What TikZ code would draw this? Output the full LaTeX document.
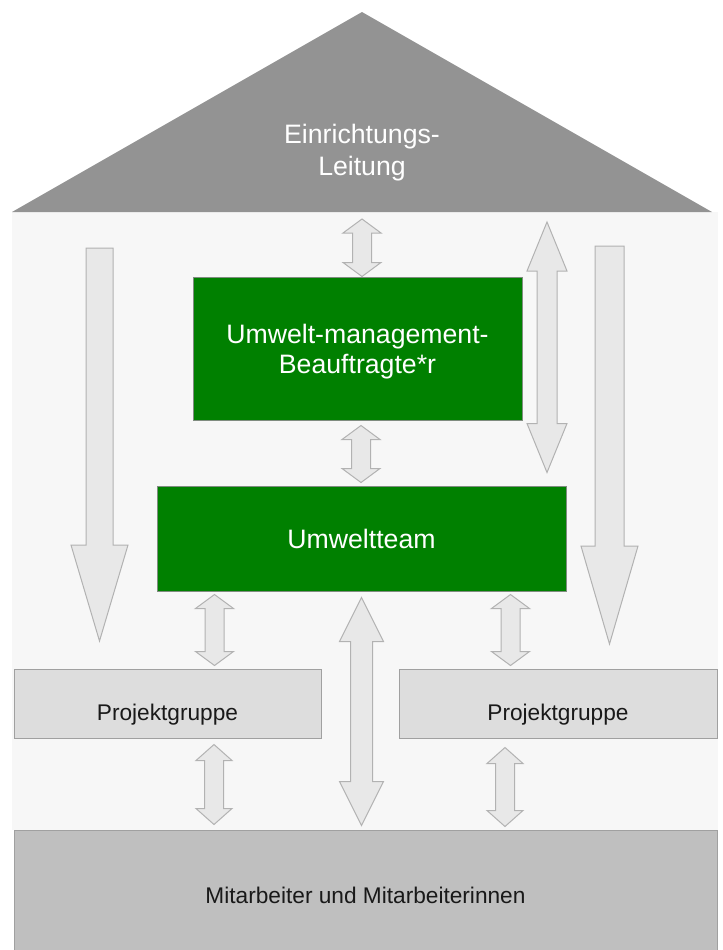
\documentclass[tikz,border=0pt]{standalone}
\usepackage{fontspec}
\setmainfont{Liberation Sans}
\usetikzlibrary{calc}
\definecolor{roofColor}{RGB}{147, 147, 147}
\definecolor{wallColor}{RGB}{247, 247, 247}
\definecolor{greenColor}{RGB}{0, 128, 0}
\definecolor{greenLine}{RGB}{128, 140, 128}
\definecolor{groupColor}{RGB}{221, 221, 221}
\definecolor{staffColor}{RGB}{191, 191, 191}
\definecolor{boxLine}{RGB}{160, 160, 160}
\definecolor{arrowFill}{RGB}{232, 232, 232}
\definecolor{arrowLine}{RGB}{178, 178, 178}

\begin{document}
\begin{tikzpicture}[
    x=0.75pt, y=-0.75pt,
    every node/.style={font=\fontsize{17}{20}\selectfont, inner sep=0pt},
    green box/.style={draw=greenLine, line width=0.75pt, fill=greenColor, text=white, align=center, font=\fontsize{20}{22.5}\selectfont},
    grey box/.style={draw=boxLine, line width=0.75pt, fill=groupColor, text=black!90, text depth=0pt},
    ba head/.code={\pgfmathsetlengthmacro\bahead{0.75*#1}},
    ba shaft/.code={\pgfmathsetlengthmacro\bashaft{0.75*#1}},
    ba tip/.code={\pgfmathsetlengthmacro\batip{0.75*#1}},
    block arrow/.style={draw=arrowLine, fill=arrowFill, line width=0.75pt, line join=miter, ba head=19, ba shaft=9.5, ba tip=14},
    two way/.style={block arrow, to path={let \p1=(\tikztostart), \p2=(\tikztotarget) in
        (\x1,\y1) -- (\x1+\bahead,\y1-\batip) -- (\x1+\bashaft,\y1-\batip)
        -- (\x1+\bashaft,\y2+\batip) -- (\x1+\bahead,\y2+\batip) -- (\x1,\y2)
        -- (\x1-\bahead,\y2+\batip) -- (\x1-\bashaft,\y2+\batip)
        -- (\x1-\bashaft,\y1-\batip) -- (\x1-\bahead,\y1-\batip) -- cycle}},
    one way/.style={block arrow, to path={let \p1=(\tikztostart), \p2=(\tikztotarget) in
        (\x1-\bashaft,\y1) -- (\x1+\bashaft,\y1) -- (\x1+\bashaft,\y2+\batip)
        -- (\x1+\bahead,\y2+\batip) -- (\x1,\y2) -- (\x1-\bahead,\y2+\batip)
        -- (\x1-\bashaft,\y2+\batip) -- cycle}}
]
    \useasboundingbox (0,0) rectangle (723,950);

    \fill[wallColor] (12,212) rectangle (718,830);
    \coordinate (roof_left) at (12,212);
    \coordinate (roof_right) at (712,212);
    \coordinate (roof_top) at (362,12);
    \fill[roofColor] (roof_left) -- (roof_top) -- (roof_right) -- cycle;
    \node[text=white, align=center, font=\fontsize{20}{24}\selectfont] (lead) at (362,153) {Einrichtungs-\\Leitung};
    \coordinate (roof_base) at (362,212);

    \node[green box, minimum width=246.75pt, minimum height=107.25pt, text depth=0pt] (umb) at (357.5,348.5) {Umwelt-management-\\Beauftragte*r};
    \node[green box, minimum width=306.75pt, minimum height=78.75pt] (team) at (361.5,538.5) {Umweltteam};
    \node[grey box, minimum width=230.25pt, minimum height=51.75pt, text height=24.75pt] (pgl) at (167.5,703.5) {Projektgruppe};
    \node[grey box, minimum width=238.5pt, minimum height=51.75pt, text height=24.75pt] (pgr) at (558,703.5) {Projektgruppe};
    \node[grey box, fill=staffColor, minimum width=527.25pt, minimum height=91.5pt, text height=18pt] (staff) at (365.5,891) {Mitarbeiter und Mitarbeiterinnen};

    \coordinate (lead_umb) at ($(roof_base)+(0,7)$);
    \coordinate (umb_team) at ($(umb.south)+(3.5,5)$);
    \coordinate (team_umb) at ($(team.north)+(0,-3)$);
    \coordinate (team_pgl) at ($(team.south west)+(58,3)$);
    \coordinate (pgl_team) at ($(pgl.north)+(0,-3)$);
    \coordinate (team_pgr) at ($(team.south east)+(-56,3)$);
    \coordinate (pgr_team) at ($(pgr.north)+(0,-3)$);
    \coordinate (team_staff) at ($(team.south)+(0,6)$);
    \coordinate (staff_team) at ($(staff.north)+(0,-4)$);
    \coordinate (pgl_staff) at ($(pgl.south)+(46.5,6)$);
    \coordinate (staff_pgl) at ($(staff.north)+(0,-5)$);
    \coordinate (pgr_staff) at ($(pgr.south)+(-53,9)$);
    \coordinate (staff_pgr) at ($(staff.north)+(0,-3)$);
    \coordinate (lead_team) at ($(roof_base)+(185,10)$);
    \coordinate (team_lead) at ($(umb.south east)+(25,52)$);
    \coordinate (left_top) at (99.5,248);
    \coordinate (left_tip) at (99.5,641);
    \coordinate (right_top) at (609.5,246);
    \coordinate (right_tip) at (609.5,644);

    \draw[one way, ba head=28.5, ba shaft=13.5, ba tip=96] (left_top) to (left_tip);
    \draw[one way, ba head=28.5, ba shaft=14.5, ba tip=98] (right_top) to (right_tip);
    \draw[two way] (lead_umb) to (umb.north);
    \draw[two way] (umb_team) to (team_umb);
    \draw[two way, ba head=20, ba shaft=10, ba tip=49] (lead_team) to (team_lead);
    \draw[two way] (team_pgl) to (pgl_team);
    \draw[two way] (team_pgr) to (pgr_team);
    \draw[two way, ba head=22, ba shaft=11, ba tip=44] (team_staff) to (staff_team);
    \draw[two way, ba head=18, ba shaft=9.5, ba tip=16] (pgl_staff) to (staff_pgl);
    \draw[two way, ba head=18, ba shaft=9.5, ba tip=16] (pgr_staff) to (staff_pgr);
\end{tikzpicture}
\end{document}
